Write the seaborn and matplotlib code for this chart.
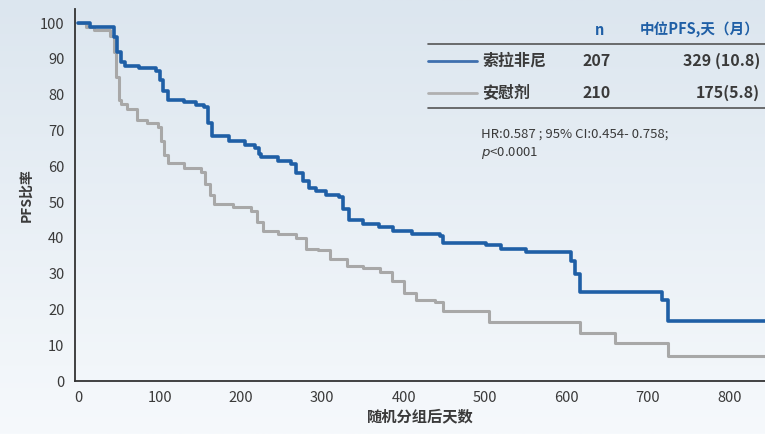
import matplotlib
matplotlib.use("Agg")
import matplotlib.pyplot as plt
import numpy as np
import pandas as pd
import seaborn as sns

# Kaplan-Meier style step data (days, PFS %)
sora_days = [0, 15, 44, 48, 52, 58, 75, 95, 100, 104, 110, 130, 145, 155, 160, 164, 185, 205, 217, 222, 225,
             245, 261, 268, 276, 284, 292, 305, 320, 326, 333, 350, 370, 387, 410, 444, 448, 501, 520,
             550, 605, 610, 617, 682, 717, 725, 844]
sora_pfs = [100, 99, 96, 92, 89, 88, 87.5, 86.5, 84, 81, 78.5, 78, 77, 76.5, 72, 68.5, 67, 66, 65, 63.5, 62.5,
            61.5, 60.5, 58, 56, 54, 53, 52, 51.5, 48, 45, 44, 43, 42, 41, 40.5, 38.5, 38, 37,
            36, 33.5, 30, 25, 25, 22.5, 16.8, 16.8]

plac_days = [0, 10, 20, 39, 44, 47, 50, 52, 60, 72, 85, 98, 102, 106, 110, 130, 151, 156, 162, 167,
             190, 212, 220, 227, 245, 268, 280, 295, 310, 330, 350, 371, 385, 400, 415, 439, 448,
             497, 505, 617, 660, 725, 844]
plac_pfs = [100, 99, 98, 96.5, 92, 85, 78.5, 77.5, 76, 73, 72, 71, 67, 63, 61, 59.5, 58.5, 55, 52, 49.5,
            48.5, 47.5, 44.5, 42, 41, 40, 37, 36.5, 34, 32, 31.5, 30.5, 28, 24.5, 22.5, 22, 19.5,
            19.5, 16.5, 13.5, 10.7, 7, 7]

groups = ["索拉非尼", "安慰剂"]
n_counts = ["207", "210"]
medians = ["329 (10.8)", "175(5.8)"]
x_ticks = [0, 100, 200, 300, 400, 500, 600, 700, 800]
y_ticks = [0, 10, 20, 30, 40, 50, 60, 70, 80, 90, 100]

df = pd.concat([
    pd.DataFrame({"day": sora_days, "pfs": sora_pfs, "group": groups[0]}),
    pd.DataFrame({"day": plac_days, "pfs": plac_pfs, "group": groups[1]}),
])

sns.set_style("white")
plt.rcParams["font.family"] = ["Noto Sans CJK SC", "DejaVu Sans"]

blue = "#1f5fa6"
gray = "#a8a8a8"
text_col = "#3a3a3a"

fig = plt.figure(figsize=(7.65, 4.34), dpi=100)

# soft blue-gray gradient background
bg = fig.add_axes([0, 0, 1, 1], zorder=-10)
grad = np.linspace(0, 1, 256).reshape(-1, 1)
cmap = matplotlib.colors.LinearSegmentedColormap.from_list("bg", ["#dce6ef", "#f6f9fc"])
bg.imshow(grad, aspect="auto", cmap=cmap, extent=[0, 1, 0, 1], origin="upper")
bg.axis("off")

ax = fig.add_axes([0.098, 0.122, 0.902, 0.858])
ax.patch.set_alpha(0)

sns.lineplot(data=df, x="day", y="pfs", hue="group", hue_order=groups,
             palette=[blue, gray], drawstyle="steps-post", legend=False,
             estimator=None, sort=False, ax=ax)
ax.lines[0].set_linewidth(2.6)
ax.lines[1].set_linewidth(2.2)
ax.lines[1].set_zorder(1)
ax.lines[0].set_zorder(2)

ax.set_xlim(-4, 844)
ax.set_ylim(0, 104)
ax.set_xticks(x_ticks)
ax.set_yticks(y_ticks)
ax.tick_params(axis="both", labelsize=10.5, colors=text_col, length=4, width=1, direction="out")
for s in ["top", "right"]:
    ax.spines[s].set_visible(False)
for s in ["left", "bottom"]:
    ax.spines[s].set_color("#333333")
    ax.spines[s].set_linewidth(1.3)

ax.set_xlabel("随机分组后天数", fontsize=11, fontweight="bold", color=text_col, labelpad=2)
ax.set_ylabel("PFS比率", fontsize=10, fontweight="bold", color=text_col, labelpad=5)

# legend table drawn in figure pixel coordinates
def fx(px):
    return px / 765

def fy(py):
    return 1 - py / 434

fig.text(fx(600), fy(30), "n", color=blue, fontsize=10.5, fontweight="bold", ha="center", va="center")
fig.text(fx(760), fy(30), "中位PFS,天（月）", color=blue, fontsize=10.5, fontweight="bold",
         ha="right", va="center")
fig.add_artist(matplotlib.lines.Line2D([fx(428), fx(765)], [fy(44), fy(44)], color="#555555", lw=1.2))
fig.add_artist(matplotlib.lines.Line2D([fx(428), fx(765)], [fy(108), fy(108)], color="#555555", lw=1.2))

row_y = [61, 93]
row_colors = ["#3f6fae", "#b0b0b0"]
for i in range(2):
    fig.add_artist(matplotlib.lines.Line2D([fx(428), fx(477)], [fy(row_y[i]), fy(row_y[i])],
                                           color=row_colors[i], lw=2))
    fig.text(fx(482), fy(row_y[i]), groups[i], color=text_col, fontsize=11.5, fontweight="bold",
             ha="left", va="center")
    fig.text(fx(597), fy(row_y[i]), n_counts[i], color=text_col, fontsize=11.5, fontweight="bold",
             ha="center", va="center")
    fig.text(fx(760), fy(row_y[i]), medians[i], color=text_col, fontsize=11.5, fontweight="bold",
             ha="right", va="center")

fig.text(fx(481), fy(134), "HR:0.587 ; 95% CI:0.454- 0.758;", color=text_col, fontsize=9.5,
         ha="left", va="center")
fig.text(fx(481), fy(153), "$p$<0.0001", color=text_col, fontsize=9.5, ha="left", va="center")

fig.savefig("out.png", dpi=100)
